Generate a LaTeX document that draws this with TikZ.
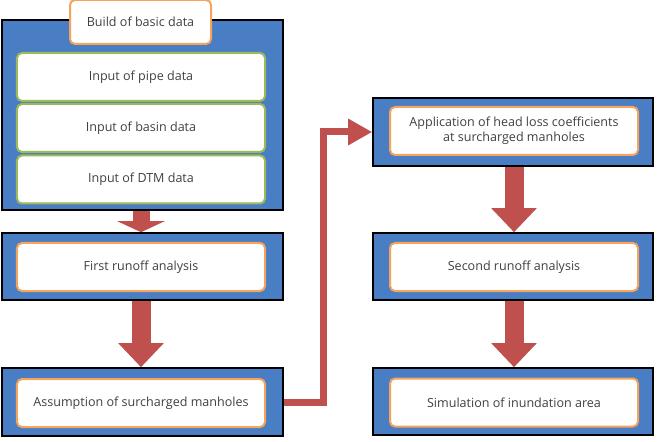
\documentclass[tikz,border=0pt]{standalone}
\usepackage{xcolor}
\usepackage{fontspec}
\setmainfont{Open Sans}
\usepackage{tikz}
\usetikzlibrary{calc}
\usetikzlibrary{arrows.meta}
\usetikzlibrary{positioning}
\definecolor{stepblue}{HTML}{4A7EC4}
\definecolor{steporange}{HTML}{F7A35C}
\definecolor{stepgreen}{HTML}{9BBB59}
\definecolor{flowred}{HTML}{C0504D}
\tikzset{>=latex}
\tikzstyle{outer} = [draw = black, line width = 1.6bp, fill = stepblue, minimum width = 281bp, inner sep = 0]
\tikzstyle{inner} = [draw = steporange, line width = 2bp, fill = white, rounded corners = 5bp, minimum width = 248bp, minimum height = 48bp, align = center, inner sep = 1, font = \fontsize{12.6}{15}\selectfont, text = black!75]
\tikzstyle{data} = [inner, draw = stepgreen]
\tikzstyle{bigarrow} = [line width = 19bp, draw = flowred, -{Triangle[width = 44bp, length = 24bp]}]
\tikzstyle{flatarrow} = [line width = 17bp, draw = flowred, -{Triangle[width = 47bp, length = 11bp]}]
\tikzstyle{link} = [line width = 7bp, draw = flowred, line join = miter, -{Triangle[width = 25bp, length = 24bp]}]

\begin{document}
\begin{tikzpicture}[x = 1bp, y = -1bp]
\useasboundingbox (0, 0) rectangle (659, 442);
% left column
\node [outer, minimum height = 190bp]  (B) at (142.5, 115) {};
\node [data]  (pipe) at (141, 77) {Input of pipe data};
\node [data]  (basin) at (141, 128) {Input of basin data};
\node [data]  (dtm) at (141, 179.5) {Input of DTM data};
\node [inner, minimum width = 141bp, minimum height = 44bp, fill = white]  (build) at (140.5, 22) {Build of basic data};
\node [outer, minimum height = 67bp]  (F) at (142.5, 266.5) {};
\node [inner]  (first) at (141, 267) {First runoff analysis};
\node [outer, minimum height = 68bp]  (A) at (142.5, 402) {};
\node [inner]  (assume) at (141, 403) {Assumption of surcharged manholes};
% right column
\node [outer, minimum width = 280bp, minimum height = 68bp]  (H) at (513, 132) {};
\node [inner]  (headloss) at (514, 131) {Application of head loss coefficients\\at surcharged manholes};
\node [outer, minimum width = 280bp, minimum height = 67bp]  (S) at (513, 266.5) {};
\node [inner]  (second) at (514, 267) {Second runoff analysis};
\node [outer, minimum width = 280bp, minimum height = 67bp]  (I) at (513, 401.5) {};
\node [inner]  (sim) at (514, 402.5) {Simulation of inundation area};
% arrows
\draw [flatarrow] (B.south -| pipe.south) to (F.north -| first.north);
\draw [bigarrow] (F.south -| first.south) to (A.north -| assume.north);
\draw [bigarrow] (H.south -| headloss.south) to (S.north -| second.north);
\draw [bigarrow] (S.south -| second.south) to (I.north -| sim.north);
\draw [link] (A.east) -- ++(40, 0) |- (H.west);
\end{tikzpicture}
\end{document}
